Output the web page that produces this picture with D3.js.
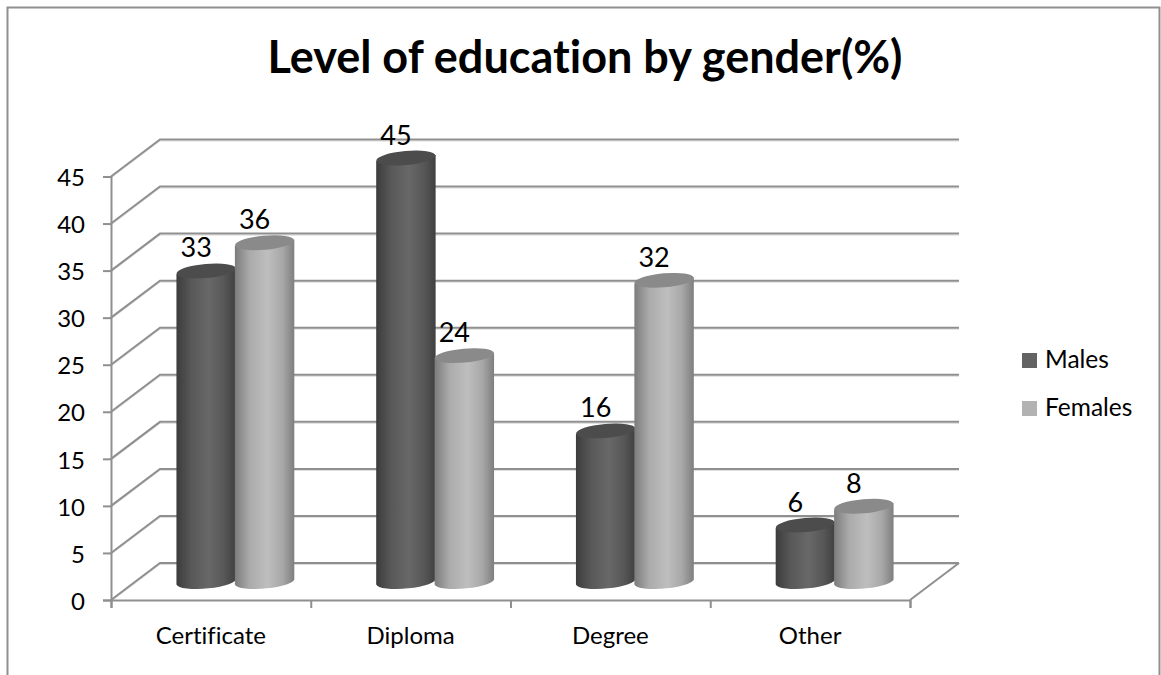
<!DOCTYPE html>
<html>
<head>
<meta charset="utf-8">
<script src="https://cdn.jsdelivr.net/npm/d3@7"></script>
<style>
html, body { margin: 0; padding: 0; background: #fff; }
svg { display: block; font-family: Lato, "Open Sans", sans-serif; font-variant-ligatures: none; }
</style>
</head>
<body>
<svg id="vis-svg"></svg>
<script>
const categories = ["Certificate", "Diploma", "Degree", "Other"];
const seriesNames = ["Males", "Females"];
const males = [33, 45, 16, 6];
const females = [36, 24, 32, 8];
const yTicks = [0, 5, 10, 15, 20, 25, 30, 35, 40, 45];
const titleText = "Level of education by gender(%)";

const lineColor = "#8f8f8f";
const depthX = 49, depthY = -37;   // how far the back wall sits from the front axes
const tilt = 3;                    // vertical drop of the ellipse ends
const labelSize = 24;

let svg = d3.select("#vis-svg").attr("width", 1161).attr("height", 675);

// gradients for the cylinders
let defs = svg.append("defs");
function addGradient(id, stops) {
    let g = defs.append("linearGradient").attr("id", id);
    stops.forEach(s => g.append("stop").attr("offset", s[0]).attr("stop-color", s[1]));
}
addGradient("grad-males", [["0%", "#3c3c3c"], ["25%", "#585858"], ["55%", "#686868"], ["80%", "#575757"], ["100%", "#404040"]]);
addGradient("grad-females", [["0%", "#7c7c7c"], ["25%", "#ababab"], ["55%", "#bebebe"], ["80%", "#a8a8a8"], ["100%", "#7e7e7e"]]);
const topColors = ["#4c4c4c", "#8a8a8a"];
const legendColors = ["#636363", "#b2b2b2"];

// outer frame, open at the bottom
svg.append("path")
    .attr("d", "M7.5,675V7.5H1159.5V675")
    .attr("fill", "none")
    .attr("stroke", lineColor)
    .attr("stroke-width", 2);

svg.append("text")
    .attr("x", 585)
    .attr("y", 73)
    .attr("text-anchor", "middle")
    .attr("font-size", 45)
    .attr("font-weight", 700)
    .attr("fill", "#000")
    .text(titleText);

let yScale = d3.scaleLinear().domain([0, 45]).range([600, 176.5]);
let xEdge = d3.scaleLinear().domain([0, categories.length]).range([111, 910]);

// band scale runs half way into the floor, where the cylinders stand
let xBand = d3.scaleBand()
    .domain(categories)
    .range([111 + depthX / 2, 910 + depthX / 2])
    .paddingInner(0.415)
    .paddingOuter(0.2075);
let xInner = d3.scaleBand().domain(seriesNames).range([0, xBand.bandwidth()]);

// walls: each gridline runs from the front axis to the back and then across
const wallPath = d => `M${xEdge(0)},${yScale(d)}l${depthX},${depthY}H${xEdge(4) + depthX}`;

// faint shadow under the gridlines
svg.append("g").attr("transform", "translate(0,1.5)").selectAll("path")
    .data(yTicks)
    .join("path")
    .attr("d", wallPath)
    .attr("fill", "none")
    .attr("stroke", "#dcdcdc")
    .attr("stroke-width", 1);

svg.append("g").selectAll("path")
    .data(yTicks)
    .join("path")
    .attr("d", wallPath)
    .attr("fill", "none")
    .attr("stroke", lineColor)
    .attr("stroke-width", 2);

svg.append("line")
    .attr("x1", xEdge(4)).attr("y1", yScale(0))
    .attr("x2", xEdge(4) + depthX).attr("y2", yScale(0) + depthY)
    .attr("stroke", lineColor)
    .attr("stroke-width", 2);

let yAxis = d3.axisLeft(yScale).tickValues(yTicks).tickSize(8).tickPadding(18);
let yG = svg.append("g")
    .attr("class", "yAxis")
    .attr("transform", `translate(${xEdge(0)},0)`)
    .call(yAxis);

let xAxis = d3.axisBottom(xEdge).tickValues(d3.range(5)).tickSize(8).tickFormat("");
let xG = svg.append("g")
    .attr("class", "xAxis")
    .attr("transform", `translate(0,${yScale(0)})`)
    .call(xAxis);

[yG, xG].forEach(g => {
    g.selectAll("path.domain").attr("stroke", lineColor).attr("stroke-width", 2);
    g.selectAll("line").attr("stroke", lineColor).attr("stroke-width", 2);
});
yG.selectAll("text")
    .attr("font-family", "Lato, 'Open Sans', sans-serif")
    .attr("font-size", labelSize)
    .attr("y", 1.5)
    .attr("fill", "#000");

svg.append("g").selectAll("text")
    .data(categories)
    .join("text")
    .attr("x", (d, i) => (xEdge(i) + xEdge(i + 1)) / 2)
    .attr("y", 644)
    .attr("text-anchor", "middle")
    .attr("font-size", labelSize)
    .attr("fill", "#000")
    .text(d => d);

// one cylinder per value
const rows = [];
seriesNames.forEach((s, j) => {
    const values = j === 0 ? males : females;
    categories.forEach((c, i) => rows.push({ category: c, series: s, idx: j, value: values[i] }));
});

const midDepth = depthY / 2;
let bars = svg.append("g").selectAll("g")
    .data(rows)
    .join("g")
    .attr("class", d => `bar-${d.series}`);

const barLeft = d => xBand(d.category) + xInner(d.series);
const barMid = d => barLeft(d) + xInner.bandwidth() / 2;
const rx = xInner.bandwidth() / 2 + 0.5, ry = 7;

bars.append("path")
    .attr("d", d => {
        const x0 = barMid(d) - rx, x1 = barMid(d) + rx;
        const yTop = yScale(d.value) + midDepth, yBase = yScale(0) + midDepth;
        return `M${x0},${yTop + tilt}L${x0},${yBase + tilt}` +
            `A${rx},${ry} -5 0 0 ${x1},${yBase - tilt}L${x1},${yTop - tilt}Z`;
    })
    .attr("fill", d => d.idx === 0 ? "url(#grad-males)" : "url(#grad-females)");

bars.append("ellipse")
    .attr("rx", rx)
    .attr("ry", ry)
    .attr("transform", d => `translate(${barMid(d)},${yScale(d.value) + midDepth}) rotate(-5)`)
    .attr("fill", d => topColors[d.idx]);

// value labels go last so that the bars never cover them
svg.append("g").selectAll("text")
    .data(rows)
    .join("text")
    .attr("x", d => barMid(d) - 10)
    .attr("y", d => yScale(d.value) + midDepth - 13.5)
    .attr("text-anchor", "middle")
    .attr("font-size", 27)
    .attr("fill", "#000")
    .text(d => d.value);

// legend
let legendY = d3.scalePoint().domain(seriesNames).range([360.5, 408.5]);
let legend = svg.append("g").selectAll("g")
    .data(seriesNames)
    .join("g")
    .attr("transform", d => `translate(1022,${legendY(d)})`);
legend.append("rect")
    .attr("y", -7.5)
    .attr("width", 15)
    .attr("height", 15)
    .attr("fill", (d, i) => legendColors[i]);
legend.append("text")
    .attr("x", 23)
    .attr("y", 7)
    .attr("font-size", 24.5)
    .attr("fill", "#000")
    .text(d => d);
</script>
</body>
</html>
